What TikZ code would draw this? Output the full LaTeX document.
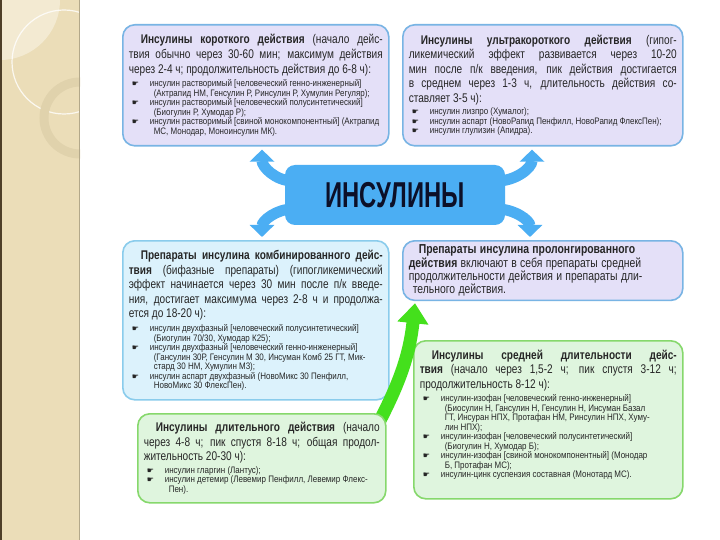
\documentclass[tikz,border=0pt]{standalone}
\usepackage{fontspec}
\setmainfont{Liberation Sans}[FakeStretch=0.8]
\setsansfont{Liberation Sans}[FakeStretch=0.8]
\newfontfamily\listfont{Liberation Sans}[FakeStretch=0.85]
\newfontfamily\headfont{Liberation Sans}[FakeStretch=0.66]
\newfontfamily\symfont{DejaVu Sans}
\usetikzlibrary{arrows.meta,positioning}

\definecolor{lavfill}{HTML}{E4E0F8}
\definecolor{lavedge}{HTML}{78B4E4}
\definecolor{cyanfill}{HTML}{DCF2FC}
\definecolor{cyanedge}{HTML}{8ACCEC}
\definecolor{greenfill}{HTML}{DFF5DE}
\definecolor{greenedge}{HTML}{86D86C}
\definecolor{armblue}{HTML}{4BAEF3}
\definecolor{arrowgreen}{HTML}{44E01C}
\definecolor{headink}{HTML}{0C1028}
\definecolor{boxink}{HTML}{262626}
\definecolor{stripbeige}{HTML}{EBDDB8}
\definecolor{striplight}{HTML}{F3EAD2}
\definecolor{ringbeige}{HTML}{E0D2AC}
\definecolor{stripedge}{HTML}{4E3F28}

\pgfdeclarelayer{front}
\pgfsetlayers{main,front}

\hyphenpenalty=10000
\exhyphenpenalty=10000

%% text helpers for the boxes
\newcommand{\lead}{\fontsize{12.6}{14.6}\selectfont\hspace*{12pt}}
\newcommand{\smalllist}{\par\vspace{3pt}\listfont\fontsize{9.4}{9.5}\selectfont\raggedright}
\newcommand{\insitem}[1]{\par\noindent\hangindent=25pt\hangafter=1%
  \makebox[21pt][l]{\hspace{3pt}{\symfont\fontsize{8}{8}\selectfont ☛}}#1\par}

\begin{document}
\begin{tikzpicture}[x=1pt, y=-1pt, font=\sffamily,
    infobox/.style={draw, rounded corners=12pt, line width=1.6pt, anchor=north west,
      inner xsep=6pt, inner ysep=4pt, align=justify, text=boxink},
    lavbox/.style={infobox, draw=lavedge, fill=lavfill},
    cyanbox/.style={infobox, draw=cyanedge, fill=cyanfill},
    greenbox/.style={infobox, draw=greenedge, fill=greenfill},
    centerbox/.style={fill=armblue, rounded corners=10pt, minimum width=220pt,
      minimum height=60pt, text=headink, font=\headfont\bfseries\fontsize{36}{36}\selectfont},
    arm/.style={draw=armblue, line width=11pt, -{Triangle[width=24pt,length=12pt]}},
    grarrow/.style={draw=arrowgreen, line width=13pt, -{Triangle[width=30pt,length=20pt]}}]

    \useasboundingbox (0,0) rectangle (720,540);
    \fill[white] (0,0) rectangle (720,540);

    %% beige strip on the left
    \begin{scope}
      \clip (0,0) rectangle (80,540);
      \fill[stripbeige] (0,0) rectangle (80,540);
      \fill[striplight] (0,0) circle (60);
      \draw[white, line width=1.2pt, opacity=0.8] (64,62) circle (52);
      \draw[ringbeige, line width=9pt] (80,118) circle (36);
    \end{scope}
    \draw[stripedge, line width=2pt] (1,0) -- (1,540);
    \draw[ringbeige!80!black, line width=0.8pt] (79.6,0) -- (79.6,540);

    %% boxes
    \node[lavbox, text width=254pt, minimum height=121pt] (short) at (122,24) {%
      \lead\textbf{Инсулины короткого действия} (начало дейс-\linebreak
      твия обычно через 30-60 мин; максимум действия\linebreak
      через 2-4 ч; продолжительность действия до 6-8 ч):
      \smalllist
      \insitem{инсулин растворимый [человеческий генно-инженерный]\newline
        (Актрапид НМ, Генсулин Р, Ринсулин Р, Хумулин Регуляр);}
      \insitem{инсулин растворимый [человеческий полусинтетический]\newline
        (Биогулин Р, Хумодар Р);}
      \insitem{инсулин растворимый [свиной монокомпонентный] (Актрапид\newline
        МС, Монодар, Моноинсулин МК).}};

    \node[lavbox, text width=268pt, minimum height=121pt] (ultra) at (402,24) {%
      \lead\textbf{Инсулины ультракороткого действия} (гипог-\linebreak
      ликемический эффект развивается через 10-20\linebreak
      мин после п/к введения, пик действия достигается\linebreak
      в среднем через 1-3 ч, длительность действия со-\linebreak
      ставляет 3-5 ч):
      \smalllist
      \insitem{инсулин лизпро (Хумалог);}
      \insitem{инсулин аспарт (НовоРапид Пенфилл, НовоРапид ФлексПен);}
      \insitem{инсулин глулизин (Апидра).}};

    \node[cyanbox, text width=254pt, minimum height=159pt] (combined) at (122,240) {%
      \lead\textbf{Препараты инсулина комбинированного дейс-\linebreak
      твия} (бифазные препараты) (гипогликемический\linebreak
      эффект начинается через 30 мин после п/к введе-\linebreak
      ния, достигает максимума через 2-8 ч и продолжа-\linebreak
      ется до 18-20 ч):
      \smalllist
      \insitem{инсулин двухфазный [человеческий полусинтетический]\newline
        (Биогулин 70/30, Хумодар К25);}
      \insitem{инсулин двухфазный [человеческий генно-инженерный]\newline
        (Гансулин 30Р, Генсулин М 30, Инсуман Комб 25 ГТ, Мик-\newline
        стард 30 НМ, Хумулин М3);}
      \insitem{инсулин аспарт двухфазный (НовоМикс 30 Пенфилл,\newline
        НовоМикс 30 ФлексПен).}};

    \node[lavbox, align=left, text width=268pt, minimum height=58pt] (prolonged) at (402,240) {%
      \fontsize{13}{13.4}\selectfont\hspace*{10pt}\textbf{Препараты инсулина пролонгированного}\newline
      \textbf{действия} включают в себя препараты средней\newline
      продолжительности действия и препараты дли-\newline
      \hspace*{4pt}тельного действия.};

    \node[greenbox, text width=257pt, minimum height=158pt] (medium) at (413,340) {%
      \lead\textbf{Инсулины средней длительности дейс-\linebreak
      твия} (начало через 1,5-2 ч; пик спустя 3-12 ч;\linebreak
      продолжительность 8-12 ч):
      \smalllist
      \insitem{инсулин-изофан [человеческий генно-инженерный]\newline
        (Биосулин Н, Гансулин Н, Генсулин Н, Инсуман Базал\newline
        ГТ, Инсуран НПХ, Протафан НМ, Ринсулин НПХ, Хуму-\newline
        лин НПХ);}
      \insitem{инсулин-изофан [человеческий полусинтетический]\newline
        (Биогулин Н, Хумодар Б);}
      \insitem{инсулин-изофан [свиной монокомпонентный] (Монодар\newline
        Б, Протафан МС);}
      \insitem{инсулин-цинк суспензия составная (Монотард МС).}
      \vspace{10pt}};

    %% green arrow runs behind the lower left box
    \coordinate (gstart) at (376,428);
    \draw[grarrow] (gstart) to[out=62,in=-96] ([xshift=13pt,yshift=-2pt]prolonged.south west);

    \node[greenbox, text width=236pt, minimum height=89pt] (long) at (137,413) {%
      \lead\textbf{Инсулины длительного действия} (начало\linebreak
      через 4-8 ч; пик спустя 8-18 ч; общая продол-\linebreak
      жительность 20-30 ч):
      \smalllist
      \insitem{инсулин гларгин (Лантус);}
      \insitem{инсулин детемир (Левемир Пенфилл, Левемир Флекс-\newline
        Пен).}};

    %% centre box sits on top of its arms
    \begin{pgfonlayer}{front}
      \node[centerbox] (hub) at (395,195) {ИНСУЛИНЫ};
    \end{pgfonlayer}

    \draw[arm] ([xshift=8pt,yshift=14pt]hub.west) to[out=180,in=-90] ([xshift=140pt,yshift=-3pt]short.south west);
    \draw[arm] ([xshift=8pt,yshift=-14pt]hub.west) to[out=180,in=90] ([xshift=140pt,yshift=3pt]combined.north west);
    \draw[arm] ([xshift=-8pt,yshift=14pt]hub.east) to[out=0,in=-90] ([xshift=130pt,yshift=-3pt]ultra.south west);
    \draw[arm] ([xshift=-8pt,yshift=-14pt]hub.east) to[out=0,in=90] ([xshift=128pt,yshift=3pt]prolonged.north west);
\end{tikzpicture}
\end{document}
